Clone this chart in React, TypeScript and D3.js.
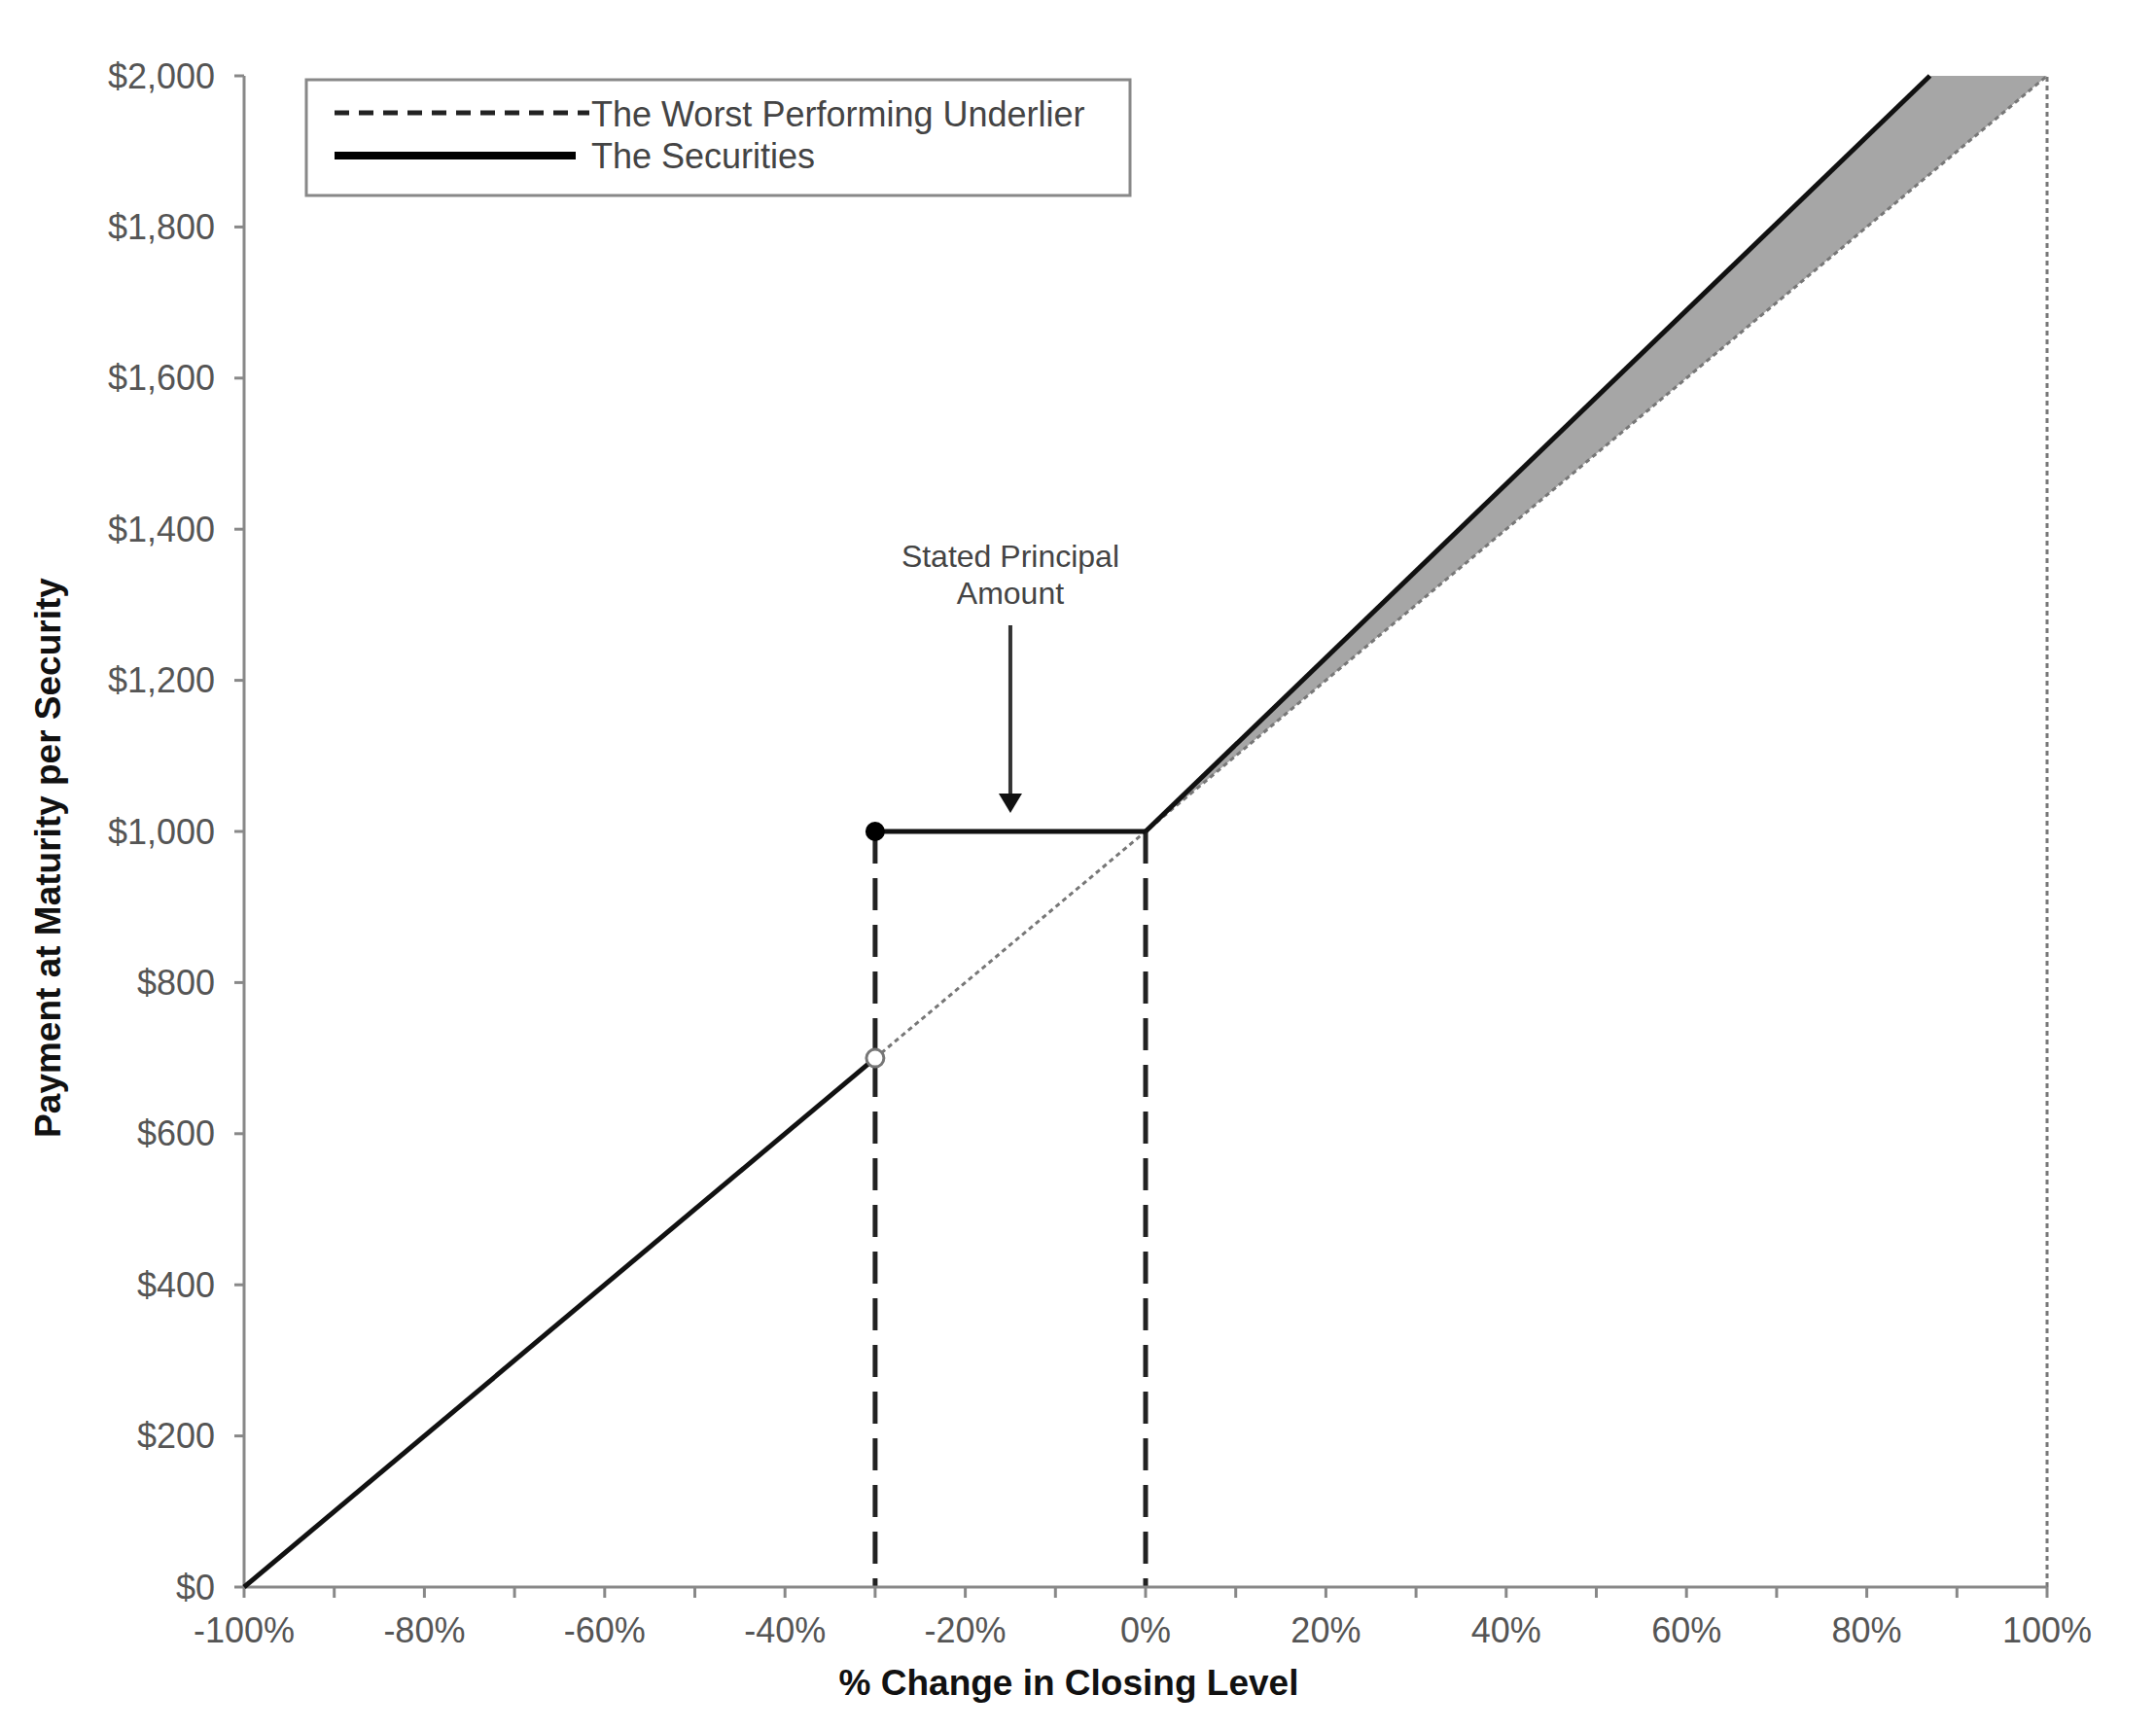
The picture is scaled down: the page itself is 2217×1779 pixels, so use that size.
import * as d3 from "d3"
import React from "react"

// x values are % change in closing level, y values are payment per security ($)
const xTicks = [-100, -80, -60, -40, -20, 0, 20, 40, 60, 80, 100]
const xMinorTicks = [-90, -70, -50, -30, -10, 10, 30, 50, 70, 90]
const yTicks = [0, 200, 400, 600, 800, 1000, 1200, 1400, 1600, 1800, 2000]

const underlier = [[-100, 0], [100, 2000]]
const securitiesDown = [[-100, 0], [-30, 700]]
const securitiesFlat = [[-30, 1000], [0, 1000]]
const securitiesUp = [[0, 1000], [87, 2000]]
// outperformance band: [x, securities, underlier]
const band = [[0, 1000, 1000], [87, 2000, 1870], [100, 2000, 2000]]
const barrier = -30
const principal = 1000
const openPoint = [-30, 700]

const W = 2217
const H = 1779
const font = "'Liberation Sans', Arial, sans-serif"

const App = () => {
    const x = d3.scaleLinear().domain([-100, 100]).range([251, 2105])
    const y = d3.scaleLinear().domain([0, 2000]).range([1632, 78])

    const line = d3.line<number[]>().x((d) => x(d[0])).y((d) => y(d[1]))
    const area = d3.area<number[]>()
        .x((d) => x(d[0]))
        .y0((d) => y(d[2]))
        .y1((d) => y(d[1]))

    const midX = x((barrier + 0) / 2)

    return (
        <svg width={W} height={H} style={{ position: "absolute", left: 0, top: 0, background: "#fff" }}>
            {/* gray band */}
            <path d={area(band)} fill="#a6a6a6" />

            {/* right edge dotted line */}
            <line x1={x(100)} x2={x(100)} y1={y(0)} y2={y(2000)} stroke="#777" strokeWidth={3} strokeDasharray="5,4" />

            {/* underlier dotted line */}
            <path d={line(underlier)} fill="none" stroke="#777" strokeWidth={3} strokeDasharray="5,4" />

            {/* vertical dashed lines at barrier and 0% */}
            {[barrier, 0].map((v) => (
                <line key={v} x1={x(v)} x2={x(v)} y1={y(principal)} y2={y(0)} stroke="#222" strokeWidth={5} strokeDasharray="33,15" />
            ))}

            {/* axes */}
            <line x1={x(-100)} x2={x(100)} y1={y(0)} y2={y(0)} stroke="#888" strokeWidth={3} />
            <line x1={x(-100)} x2={x(-100)} y1={y(0)} y2={y(2000)} stroke="#888" strokeWidth={3} />
            {[...xTicks, ...xMinorTicks].map((t) => (
                <line key={"xt" + t} x1={x(t)} x2={x(t)} y1={y(0)} y2={y(0) + 11} stroke="#888" strokeWidth={3} />
            ))}
            {yTicks.map((t) => (
                <line key={"yt" + t} x1={x(-100) - 10} x2={x(-100)} y1={y(t)} y2={y(t)} stroke="#888" strokeWidth={3} />
            ))}
            {xTicks.map((t) => (
                <text key={"xl" + t} x={x(t)} y={1689} textAnchor="middle" fontFamily={font} fontSize={36} fill="#555">
                    {t + "%"}
                </text>
            ))}
            {yTicks.map((t) => (
                <text key={"yl" + t} x={221} y={y(t)} dy="0.35em" textAnchor="end" fontFamily={font} fontSize={36} fill="#555">
                    {d3.format("$,")(t)}
                </text>
            ))}

            {/* securities payoff */}
            <path d={line(securitiesDown)} fill="none" stroke="#111" strokeWidth={5} />
            <path d={line(securitiesFlat)} fill="none" stroke="#111" strokeWidth={5} />
            <path d={line(securitiesUp)} fill="none" stroke="#111" strokeWidth={5} />
            <circle cx={x(securitiesFlat[0][0])} cy={y(securitiesFlat[0][1])} r={10} fill="#000" />
            <circle cx={x(openPoint[0])} cy={y(openPoint[1])} r={9} fill="#fff" stroke="#777" strokeWidth={3} />

            {/* annotation */}
            <text x={midX} y={583} textAnchor="middle" fontFamily={font} fontSize={32} fill="#444">Stated Principal</text>
            <text x={midX} y={621} textAnchor="middle" fontFamily={font} fontSize={32} fill="#444">Amount</text>
            <line x1={midX} x2={midX} y1={643} y2={818} stroke="#333" strokeWidth={4} />
            <path d={`M${midX - 12},${816} L${midX + 12},${816} L${midX},${836} Z`} fill="#111" />

            {/* legend */}
            <rect x={315} y={82} width={847} height={119} fill="#fff" stroke="#888" strokeWidth={3} />
            <line x1={344} x2={606} y1={116} y2={116} stroke="#222" strokeWidth={5} strokeDasharray="15,10" />
            <line x1={344} x2={592} y1={160} y2={160} stroke="#000" strokeWidth={8} />
            <text x={608} y={130} fontFamily={font} fontSize={36} fill="#444">The Worst Performing Underlier</text>
            <text x={608} y={173} fontFamily={font} fontSize={36} fill="#444">The Securities</text>

            {/* axis titles */}
            <text x={1099} y={1743} textAnchor="middle" fontFamily={font} fontSize={37} fontWeight="bold" fill="#111">
                % Change in Closing Level
            </text>
            <text transform={`translate(62, 882) rotate(-90)`} textAnchor="middle" fontFamily={font} fontSize={37} fontWeight="bold" fill="#111">
                Payment at Maturity per Security
            </text>
        </svg>
    )
}

export default App
